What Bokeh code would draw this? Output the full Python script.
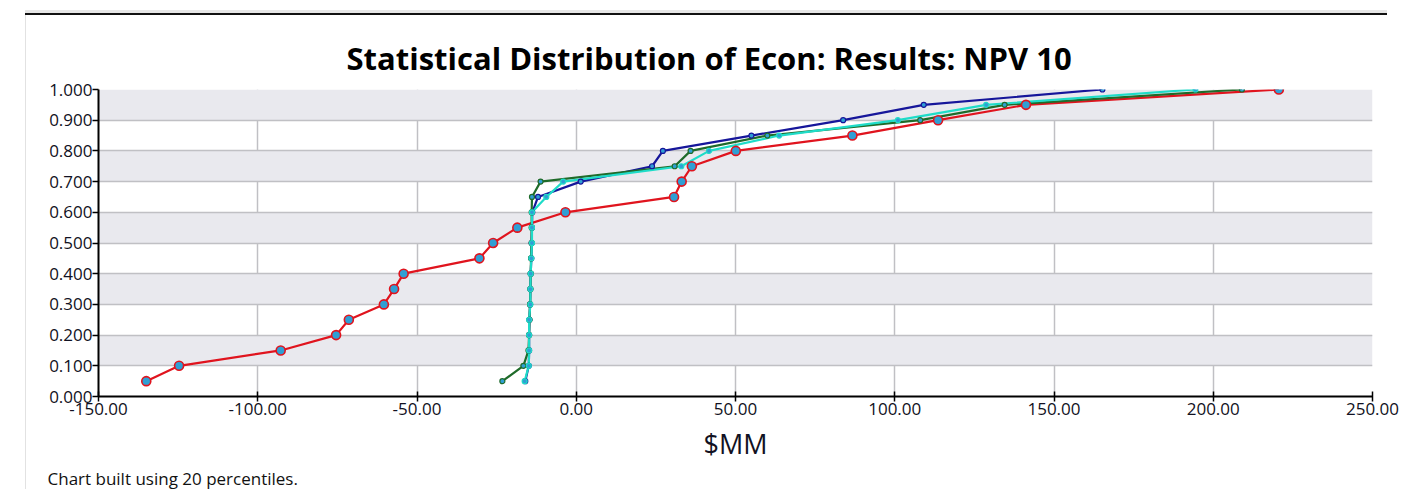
from bokeh.plotting import figure
from bokeh.models import Range1d, FixedTicker, NumeralTickFormatter, Title, InlineStyleSheet
from bokeh.embed import file_html
from bokeh.resources import INLINE

# --- data ---------------------------------------------------------------
percentiles = [0.05, 0.10, 0.15, 0.20, 0.25, 0.30, 0.35, 0.40, 0.45, 0.50,
               0.55, 0.60, 0.65, 0.70, 0.75, 0.80, 0.85, 0.90, 0.95, 1.00]

red_vals = [-135.0, -124.7, -92.8, -75.4, -71.4, -60.4, -57.2, -54.2, -30.4, -26.1,
            -18.5, -3.4, 30.7, 33.1, 36.3, 50.1, 86.7, 113.6, 141.2, 220.6]
blue_vals = [-16.0, -14.9, -14.8, -14.8, -14.7, -14.5, -14.4, -14.3, -14.1, -14.0,
             -13.9, -13.8, -12.0, 1.4, 23.8, 27.2, 55.0, 83.8, 109.1, 165.2]
green_vals = [-23.2, -16.6, -15.0, -14.8, -14.7, -14.5, -14.4, -14.3, -14.2, -14.0,
              -14.0, -14.0, -13.9, -11.2, 30.9, 35.9, 60.0, 108.0, 134.5, 209.0]
cyan_vals = [-16.2, -14.9, -14.8, -14.8, -14.8, -14.4, -14.4, -14.3, -14.1, -13.9,
             -13.9, -13.9, -9.4, -4.1, 33.0, 41.7, 63.7, 101.0, 128.7, 194.4]

x_ticks = [-150, -100, -50, 0, 50, 100, 150, 200, 250]
y_ticks = [0.0, 0.1, 0.2, 0.3, 0.4, 0.5, 0.6, 0.7, 0.8, 0.9, 1.0]

title_text = "Statistical Distribution of Econ: Results: NPV 10"
x_label = "$MM"
footnote = "Chart built using 20 percentiles."

FONT = "Open Sans"

chrome = InlineStyleSheet(css="""
:host::before { content: ''; position: absolute; left: 25px; top: 10px; width: 1362px;
  height: 3px; background: #e6e6e6; border-bottom: 2px solid #111;
  pointer-events: none; z-index: 5; }
:host::after { content: ''; position: absolute; left: 25px; top: 15px; width: 1px;
  height: 474px; background: #e2e2e2; pointer-events: none; z-index: 5; }
""")

p = figure(width=1427, height=489, output_backend="svg", toolbar_location=None,
           x_range=Range1d(-150, 250), y_range=Range1d(0, 1),
           min_border_left=98, min_border_right=55, min_border_top=89,
           min_border_bottom=92, stylesheets=[chrome])

p.title.text = title_text
p.title.text_font = FONT
p.title.text_font_size = "31px"
p.title.text_font_style = "bold"
p.title.text_color = "#000000"
p.title.align = "left"
p.title.offset = 248
p.title.standoff = 22

p.outline_line_color = None
p.background_fill_color = "white"
p.border_fill_color = "white"

# grids
p.xgrid.ticker = FixedTicker(ticks=x_ticks)
p.ygrid.ticker = FixedTicker(ticks=y_ticks)
p.xgrid.grid_line_color = "#c0c0c4"
p.ygrid.grid_line_color = "#c0c0c4"
p.xgrid.grid_line_width = 1.5
p.ygrid.grid_line_width = 1.5
p.ygrid.band_fill_color = "#e9e9ee"
p.ygrid.band_fill_alpha = 1.0

# axes
for ax in (p.xaxis[0], p.yaxis[0]):
    ax.axis_line_color = "black"
    ax.axis_line_width = 2
    ax.major_tick_line_color = "black"
    ax.major_tick_line_width = 1.5
    ax.minor_tick_line_color = None
    ax.major_label_text_font = FONT
    ax.major_label_text_font_size = "17px"
    ax.major_label_text_color = "#111122"

p.xaxis.ticker = FixedTicker(ticks=x_ticks)
p.xaxis.formatter = NumeralTickFormatter(format="0.00")
p.xaxis.major_tick_in = 5
p.xaxis.major_tick_out = 5
p.xaxis.major_label_standoff = 1
p.xaxis.axis_label = x_label
p.xaxis.axis_label_text_font = FONT
p.xaxis.axis_label_text_font_size = "27px"
p.xaxis.axis_label_text_font_style = "normal"
p.xaxis.axis_label_text_color = "#111122"
p.xaxis.axis_label_standoff = 7

p.yaxis.ticker = FixedTicker(ticks=y_ticks)
p.yaxis.formatter = NumeralTickFormatter(format="0.000")
p.yaxis.major_tick_in = 0
p.yaxis.major_tick_out = 6
p.yaxis.major_label_standoff = 0

# series
series = [
    (red_vals, "#e0141e", 9, 1.6),
    (blue_vals, "#16169a", 5, 1.2),
    (green_vals, "#1f6b2a", 5, 1.2),
    (cyan_vals, "#1fdcc8", 5, 1.2),
]
for vals, col, msize, mlw in series:
    p.line(vals, percentiles, line_color=col, line_width=2.2)
for vals, col, msize, mlw in series:
    p.scatter(vals, percentiles, marker="circle", size=msize,
              fill_color="#2f9fd4", line_color=col, line_width=mlw)

foot = Title(text=footnote, align="left", offset=-51, standoff=0,
             text_font=FONT, text_font_size="17px", text_font_style="normal",
             text_color="#111111")
p.add_layout(foot, "below")

open("out.html", "w").write(file_html(p, INLINE))
